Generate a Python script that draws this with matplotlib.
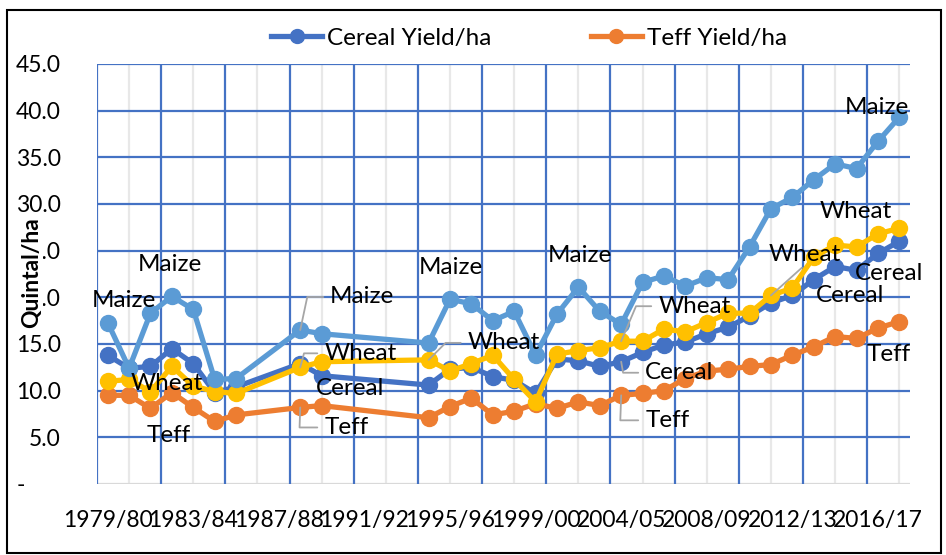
import numpy as np
import matplotlib
matplotlib.use("Agg")
import matplotlib.pyplot as plt
from matplotlib.lines import Line2D

plt.rcParams['font.family'] = ['Lato', 'DejaVu Sans']

nan = np.nan

years = ["1979/80", "1980/81", "1981/82", "1982/83", "1983/84", "1984/85", "1985/86",
         "1986/87", "1987/88", "1988/89", "1989/90", "1990/91", "1991/92", "1992/93",
         "1993/94", "1994/95", "1995/96", "1996/97", "1997/98", "1998/99", "1999/00",
         "2001/02", "2002/03", "2003/04", "2004/05", "2005/06", "2006/07", "2007/08",
         "2008/09", "2009/10", "2010/11", "2011/12", "2012/13", "2013/14", "2014/15",
         "2015/16", "2016/17", "2017/18"]
shown_labels = ["1979/80", "1983/84", "1987/88", "1991/92", "1995/96", "1999/00",
                "2004/05", "2008/09", "2012/13", "2016/17"]

cereal = [13.8, 12.4, 12.6, 14.5, 12.9, 9.8, 10.4, nan, nan, 12.9, 11.6, nan, nan, nan, nan,
          10.6, 12.3, 12.5, 11.5, 11.1, 9.7, 13.4, 13.2, 12.6, 13.1, 14.1, 14.9, 15.2, 16.1,
          16.8, 18.0, 19.4, 20.2, 21.9, 23.3, 22.9, 24.7, 26.0]
teff = [9.5, 9.5, 8.1, 9.8, 8.2, 6.7, 7.4, nan, nan, 8.2, 8.4, nan, nan, nan, nan,
        7.1, 8.3, 9.2, 7.4, 7.8, 8.6, 8.1, 8.8, 8.4, 9.5, 9.7, 10.0, 11.3, 12.1,
        12.3, 12.6, 12.8, 13.8, 14.7, 15.8, 15.6, 16.7, 17.4]
wheat = [11.0, 11.2, 9.9, 12.6, 10.5, 9.9, 9.7, nan, nan, 12.5, 13.1, nan, nan, nan, nan,
         13.3, 12.1, 12.9, 13.8, 11.2, 8.8, 13.9, 14.3, 14.6, 15.3, 15.3, 16.6, 16.3, 17.3,
         18.3, 18.3, 20.2, 21.0, 24.3, 25.6, 25.4, 26.8, 27.4]
maize = [17.3, 12.4, 18.3, 20.1, 18.7, 11.2, 11.3, nan, nan, 16.5, 16.1, nan, nan, nan, nan,
         15.1, 19.8, 19.3, 17.5, 18.5, 13.8, 18.2, 21.1, 18.5, 17.1, 21.6, 22.3, 21.2, 22.1,
         21.9, 25.4, 29.5, 30.7, 32.6, 34.3, 33.8, 36.7, 39.3]

yticks = [0, 5, 10, 15, 20, 25, 30, 35, 40, 45]

C_CEREAL = "#4472C4"
C_TEFF = "#ED7D31"
C_WHEAT = "#FFC000"
C_MAIZE = "#5B9BD5"
GRID = "#4472C4"
LEADER = "#A6A6A6"

fig = plt.figure(figsize=(9.46, 5.55), dpi=100)
ax = fig.add_axes([97 / 946, 1 - 484 / 555, 813 / 946, 420 / 555])

x = np.arange(len(years))
series = {"cereal": (cereal, C_CEREAL), "teff": (teff, C_TEFF),
          "wheat": (wheat, C_WHEAT), "maize": (maize, C_MAIZE)}
for name, (vals, col) in series.items():
    v = np.array(vals, dtype=float)
    ok = ~np.isnan(v)
    ax.plot(x[ok], v[ok], color=col, lw=3.8, marker='o', ms=11.5, zorder=3)

# gridlines
for y in yticks[1:]:
    ax.axhline(y, color=GRID, lw=1.6, zorder=1)
ax.axhline(0, color="#D9D9D9", lw=1.6, zorder=1)
for k in range(13):
    ax.axvline(-0.5 + 3 * k, color=GRID, lw=1.6, zorder=1)
    ax.axvline(1.0 + 3 * k, color="#E8E8E8", lw=1.6, zorder=0.5)

ax.set_xlim(-0.5, len(years) - 0.5)
ax.set_ylim(0, 45)
for s in ax.spines.values():
    s.set_visible(False)
ax.set_yticks(yticks)
ax.set_yticklabels(["-      "] + ["%.1f" % t for t in yticks[1:]], fontsize=16.5)
ax.set_xticks([years.index(l) for l in shown_labels])
ax.set_xticklabels(shown_labels, fontsize=16.5)
ax.tick_params(length=0)
ax.tick_params(axis='y', pad=26)
ax.tick_params(axis='x', pad=19)

# data labels: (text, values, index, dx px, dy px)
plain = [("Maize", maize, 0, 16, 22), ("Maize", maize, 3, -2, 32),
         ("Wheat", wheat, 2, 16, 8), ("Teff", teff, 2, 18, -27),
         ("Cereal", cereal, 10, 28, -13), ("Maize", maize, 16, 1, 32),
         ("Maize", maize, 22, 1, 32), ("Wheat", wheat, 35, -1, 35),
         ("Maize", maize, 37, -22, 10), ("Cereal", cereal, 36, 11, -20),
         ("Cereal", cereal, 33, 36, -16), ("Teff", teff, 37, -11, -33)]
for txt, vals, i, dx, dy in plain:
    ax.annotate(txt, (i, vals[i]), xytext=(dx * 0.72, dy * 0.72), textcoords='offset points',
                ha='center', va='center', fontsize=17.5, zorder=5)

# labels with leader lines: (text, values, index, dx to left edge px, dy px, angle)
leaders = [("Maize", maize, 9, 30, 33, 78), ("Wheat", wheat, 9, 24, 14, 75),
           ("Teff", teff, 9, 24, -20, 88), ("Wheat", wheat, 15, 39, 17, 45),
           ("Wheat", wheat, 24, 37, 35, 67), ("Cereal", cereal, 24, 24, -11, -80),
           ("Teff", teff, 24, 24, -25, 88)]
for txt, vals, i, dx, dy, ang in leaders:
    ax.annotate(txt, (i, vals[i]), xytext=(dx * 0.72, dy * 0.72), textcoords='offset points',
                ha='left', va='center', fontsize=17.5, zorder=5,
                arrowprops=dict(arrowstyle='-', color=LEADER, lw=1.3, relpos=(0, 0.5),
                                shrinkA=3, shrinkB=0,
                                connectionstyle="angle,angleA=0,angleB=%d,rad=0" % ang))
ax.annotate("Wheat", (31, wheat[31]), xytext=(34 * 0.72, 41 * 0.72), textcoords='offset points',
            ha='center', va='center', fontsize=17.5, zorder=5,
            arrowprops=dict(arrowstyle='-', color=LEADER, lw=1.3, relpos=(0.5, 0),
                            shrinkA=0, shrinkB=0))

# axis title sits over the tick labels, as in the original (white patch behind it)
fig.patches.append(plt.Rectangle((15 / 946, 1 - 334 / 555), 28 / 946, 119 / 555,
                                 transform=fig.transFigure, facecolor='white',
                                 edgecolor='none', zorder=5))
fig.text(32 / 946, 1 - 273 / 555, "Quintal/ha", rotation=90, ha='center', va='center',
         fontsize=16.5, fontweight='bold', zorder=10)

handles = [Line2D([], [], color=C_CEREAL, lw=3.8, marker='o', ms=10),
           Line2D([], [], color=C_TEFF, lw=3.8, marker='o', ms=10)]
fig.legend(handles, ["Cereal Yield/ha", "Teff Yield/ha"], loc='center',
           bbox_to_anchor=(529 / 946, 1 - 38 / 555), ncol=2, frameon=False, fontsize=17.5,
           handlelength=2.1, handletextpad=0.2, columnspacing=4.1)

fig.patches.append(plt.Rectangle((7 / 946, 0.004), 934 / 946, 0.978, transform=fig.transFigure,
                                 fill=False, edgecolor='black', lw=1.5))

fig.savefig("out.png", dpi=100)
